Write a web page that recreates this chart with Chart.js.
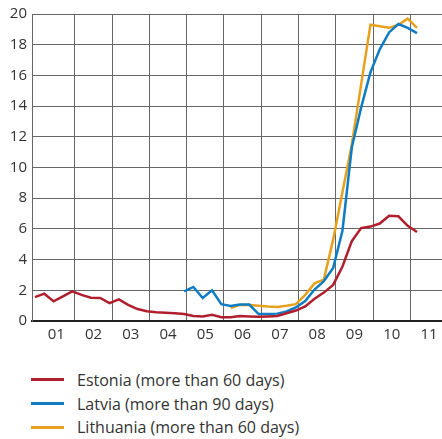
<!DOCTYPE html>
<html>
<head>
<meta charset="utf-8">
<script src="https://cdn.jsdelivr.net/npm/chart.js@4.4.1/dist/chart.umd.min.js"></script>
<style>
  body { margin: 0; background: #fff; font-family: "Open Sans", sans-serif; }
  #wrap { position: relative; width: 442px; height: 350px; }
  #legend { position: absolute; left: 31px; top: 368px; }
  .item { display: flex; align-items: center; height: 23.7px; font-size: 16px; color: #333; }
  .swatch { width: 33px; height: 3px; margin-right: 13px; }
</style>
</head>
<body>
<div id="wrap"><canvas id="chart" width="442" height="350"></canvas></div>
<div id="legend"></div>
<script>
// quarters 2000Q4 .. 2011Q1
const quarters = [
  '2000Q4',
  '2001Q1','2001Q2','2001Q3','2001Q4','2002Q1','2002Q2','2002Q3','2002Q4',
  '2003Q1','2003Q2','2003Q3','2003Q4','2004Q1','2004Q2','2004Q3','2004Q4',
  '2005Q1','2005Q2','2005Q3','2005Q4','2006Q1','2006Q2','2006Q3','2006Q4',
  '2007Q1','2007Q2','2007Q3','2007Q4','2008Q1','2008Q2','2008Q3','2008Q4',
  '2009Q1','2009Q2','2009Q3','2009Q4','2010Q1','2010Q2','2010Q3','2010Q4',
  '2011Q1'
];
const estonia = [1.56,
  1.78,1.28,1.61,1.93, 1.70,1.52,1.50,1.17, 1.41,1.05,0.78,0.63, 0.57,0.53,0.50,0.45,
  0.33,0.30,0.40,0.25, 0.24,0.33,0.30,0.28, 0.30,0.33,0.50,0.68, 0.95,1.45,1.85,2.35,
  3.55,5.20,6.05,6.15, 6.35,6.85,6.82,6.20, 5.80];
const latvia = [null,
  null,null,null,null, null,null,null,null, null,null,null,null, null,null,null,1.93,
  2.22,1.50,2.00,1.10, 0.98,1.08,1.07,0.45, 0.45,0.48,0.62,0.88, 1.30,2.05,2.60,3.45,
  5.90,11.3,13.9,16.2, 17.7,18.8,19.35,19.1, 18.75];
const lithuania = [null,
  null,null,null,null, null,null,null,null, null,null,null,null, null,null,null,null,
  null,null,null,null, 0.85,1.05,1.05,1.00, 0.95,0.92,1.00,1.10, 1.70,2.45,2.70,5.30,
  8.40,11.5,15.4,19.3, 19.2,19.1,19.3,19.7, 19.1];
const tickYears = [2001,2002,2003,2004,2005,2006,2007,2008,2009,2010,2011];
const yTicks = [0,2,4,6,8,10,12,14,16,18,20];

// position of a quarter on the year axis
function qx(q) {
  return +q.slice(0, 4) + (+q.slice(5) - 1) * 0.25 + 0.18;
}
function pts(arr) {
  return quarters.map((q, i) => ({ x: qx(q), y: arr[i] }));
}

const series = [
  { label: 'Estonia (more than 60 days)', data: estonia, color: '#b01f2e' },
  { label: 'Latvia (more than 90 days)', data: latvia, color: '#0e7cc4' },
  { label: 'Lithuania (more than 60 days)', data: lithuania, color: '#e8a11e' }
];

const gridCol = '#666';
new Chart(document.getElementById('chart'), {
  type: 'line',
  data: {
    datasets: series.map(s => ({
      label: s.label,
      data: pts(s.data),
      borderColor: s.color,
      backgroundColor: s.color,
      borderWidth: 2.5,
      pointRadius: 0,
      tension: 0,
      spanGaps: false
    }))
  },
  options: {
    responsive: false,
    animation: false,
    devicePixelRatio: 1,
    layout: { padding: { top: 14, left: 0, right: 0, bottom: 0 } },
    plugins: { legend: { display: false }, tooltip: { enabled: false } },
    scales: {
      x: {
        type: 'linear',
        min: 2000.85,
        max: 2011.85,
        afterBuildTicks: s => { s.ticks = tickYears.map(v => ({ value: v })); },
        afterFit: s => { s.height = 29; },
        ticks: {
          callback: v => String(v).slice(2),
          labelOffset: 18.67,
          padding: 5,
          autoSkip: false,
          maxRotation: 0,
          color: '#333',
          font: { family: 'Open Sans', size: 15 }
        },
        grid: {
          color: c => (c.tick && c.tick.value === 2001) ? 'rgba(0,0,0,0)' : gridCol,
          drawTicks: false
        },
        border: { color: '#222', width: 2 }
      },
      y: {
        min: 0,
        max: 20,
        afterBuildTicks: s => { s.ticks = yTicks.map(v => ({ value: v })); },
        afterFit: s => { s.width = 32; },
        ticks: {
          padding: 5,
          color: '#333',
          font: { family: 'Open Sans', size: 15 }
        },
        grid: { color: gridCol, drawTicks: false },
        border: { color: gridCol, width: 1 }
      }
    }
  }
});

// legend under the chart
const legend = document.getElementById('legend');
series.forEach(s => {
  const row = document.createElement('div');
  row.className = 'item';
  row.innerHTML = '<span class="swatch" style="background:' + s.color + '"></span><span>' + s.label + '</span>';
  legend.appendChild(row);
});
</script>
</body>
</html>
